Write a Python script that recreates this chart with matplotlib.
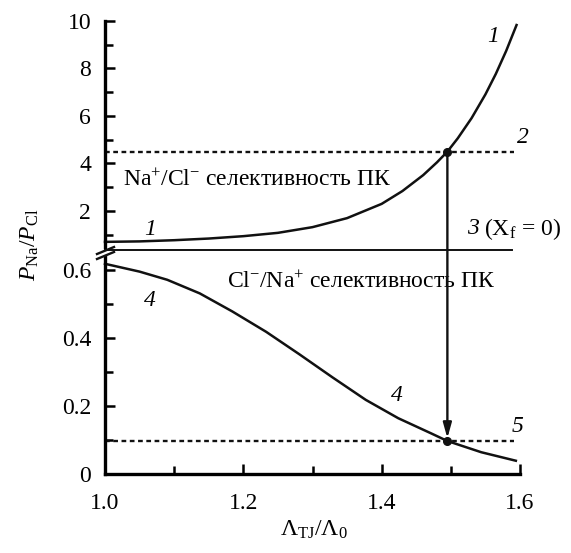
import matplotlib
matplotlib.use("Agg")
import matplotlib.pyplot as plt
from matplotlib.lines import Line2D
from matplotlib.patches import ConnectionPatch
from matplotlib.ticker import MultipleLocator

plt.rcParams.update({
    "font.family": "Liberation Serif",
    "mathtext.fontset": "custom",
    "mathtext.rm": "Liberation Serif",
    "mathtext.it": "Liberation Serif:italic",
    "mathtext.bf": "Liberation Serif:bold",
    "font.size": 17,
})

# curve 1: Na+/Cl- selectivity branch (upper scale)
x1 = [1.00, 1.05, 1.10, 1.15, 1.20, 1.25, 1.30, 1.35, 1.40, 1.43, 1.46, 1.48,
      1.495, 1.51, 1.53, 1.55, 1.565, 1.58, 1.595]
y1 = [0.70, 0.72, 0.77, 0.84, 0.94, 1.08, 1.32, 1.70, 2.30, 2.84, 3.51, 4.05,
      4.50, 5.06, 5.91, 6.91, 7.77, 8.74, 9.83]

# curve 4: Cl-/Na+ selectivity branch (lower scale)
x4 = [1.00, 1.05, 1.09, 1.137, 1.184, 1.233, 1.281, 1.329, 1.377, 1.424, 1.472,
      1.495, 1.544, 1.594]
y4 = [0.618, 0.595, 0.571, 0.531, 0.478, 0.418, 0.352, 0.284, 0.218, 0.164, 0.119,
      0.097, 0.064, 0.039]

x_line_end = 1.592
level2 = 4.5       # dotted line 2
level5 = 0.097     # dotted line 5
level3 = 0.659     # line 3 (X_f = 0)
x_cross = 1.495

top_ticks = [2, 4, 6, 8, 10]
bot_ticks = [0, 0.2, 0.4, 0.6]
x_ticks = [1.0, 1.2, 1.4, 1.6]

W, H = 571, 553
fig = plt.figure(figsize=(W / 100, H / 100), dpi=100)

def fx(px):
    return px / W

def fy(py):
    return 1 - py / H

ax_top = fig.add_axes([fx(105), fy(247), fx(520) - fx(105), fy(21) - fy(247)])
ax_bot = fig.add_axes([fx(105), fy(474), fx(520) - fx(105), fy(257) - fy(474)])

k = "#111111"
for ax in (ax_top, ax_bot):
    ax.set_xlim(1.0, 1.6)
    for s in ("top", "right"):
        ax.spines[s].set_visible(False)
    ax.spines["left"].set_linewidth(2.4)
    ax.spines["bottom"].set_linewidth(2.4)
    ax.tick_params(which="both", direction="in", width=1.8, labelsize=17)
    ax.tick_params(which="major", length=7)
    ax.tick_params(which="minor", length=5.5)
    ax.patch.set_alpha(0)

ax_top.spines["bottom"].set_visible(False)
ax_top.set_ylim(0.484, 10.0)
ax_top.set_yticks(top_ticks)
ax_top.yaxis.set_minor_locator(MultipleLocator(1))
ax_top.tick_params(axis="x", which="both", bottom=False, labelbottom=False)
ax_top.tick_params(axis="y", pad=10)

ax_bot.set_ylim(0, 0.638)
ax_bot.set_yticks(bot_ticks)
ax_bot.set_yticklabels(["0", "0.2", "0.4", "0.6"])
ax_bot.yaxis.set_minor_locator(MultipleLocator(0.1))
ax_bot.set_xticks(x_ticks)
ax_bot.set_xticklabels(["1.0", "1.2", "1.4", "1.6"])
ax_bot.xaxis.set_minor_locator(MultipleLocator(0.1))
ax_bot.tick_params(axis="y", pad=10)
ax_bot.tick_params(axis="x", pad=14)

# curves
ax_top.plot(x1, y1, color=k, lw=1.8, clip_on=False, solid_joinstyle="round")
ax_bot.plot(x4, y4, color=k, lw=1.8, clip_on=False, solid_joinstyle="round")

# dotted reference levels
ax_top.plot([1.0, x_line_end], [level2, level2], color=k, lw=1.7, ls=(0, (2, 1.5)))
ax_bot.plot([1.0, x_line_end], [level5, level5], color=k, lw=1.7, ls=(0, (2, 1.5)))
ax_bot.plot([1.0, 1.588], [level3, level3], color=k, lw=1.4, clip_on=False)

# arrow from curve 1 to curve 4
arrow = ConnectionPatch(xyA=(x_cross, level2), coordsA=ax_top.transData,
                        xyB=(x_cross, level5), coordsB=ax_bot.transData,
                        arrowstyle="-|>,head_length=0.9,head_width=0.25",
                        color=k, lw=1.7, shrinkA=0, shrinkB=2)
fig.add_artist(arrow)
ax_top.plot([x_cross], [level2], "o", color=k, ms=5.5, clip_on=False)
ax_bot.plot([x_cross], [level5], "o", color=k, ms=5.5, clip_on=False)

# axis break marks
for dy in (0, 5):
    fig.add_artist(Line2D([fx(97), fx(114)], [fy(254 + dy), fy(247 + dy)],
                          color=k, lw=1.7, transform=fig.transFigure))

# annotations
ax_top.text(1.553, 9.35, "1", style="italic", ha="left", va="center")
ax_top.text(1.057, 1.2, "1", style="italic", ha="left", va="center")
ax_top.text(1.596, 5.1, "2", style="italic", ha="left", va="center")
ax_top.text(1.524, 1.25, "3", style="italic", ha="left", va="center")
ax_top.annotate(r"(X$_{\mathrm{f}}$ = 0)", xy=(1.524, 1.25), xytext=(12, 0),
                textcoords="offset points", ha="left", va="center")
ax_top.text(1.026, 3.3, r"Na$^{+}$/Cl$^{-}$ селективность ПК", ha="left", va="center")
ax_bot.text(1.176, 0.565, r"Cl$^{-}$/Na$^{+}$ селективность ПК", ha="left", va="center")
ax_bot.text(1.057, 0.51, "4", style="italic", ha="left", va="center")
ax_bot.text(1.414, 0.23, "4", style="italic", ha="left", va="center")
ax_bot.text(1.588, 0.14, "5", style="italic", ha="left", va="center")

fig.text(fx(30), fy(245), r"$P_{\mathrm{Na}}/P_{\mathrm{Cl}}$", rotation=90,
         ha="center", va="center", fontsize=17)
fig.text(fx(314), fy(530), r"$\mathrm{\Lambda}_{\mathrm{TJ}}/\mathrm{\Lambda}_{0}$",
         ha="center", va="center", fontsize=17)

fig.savefig("out.png", dpi=100)
